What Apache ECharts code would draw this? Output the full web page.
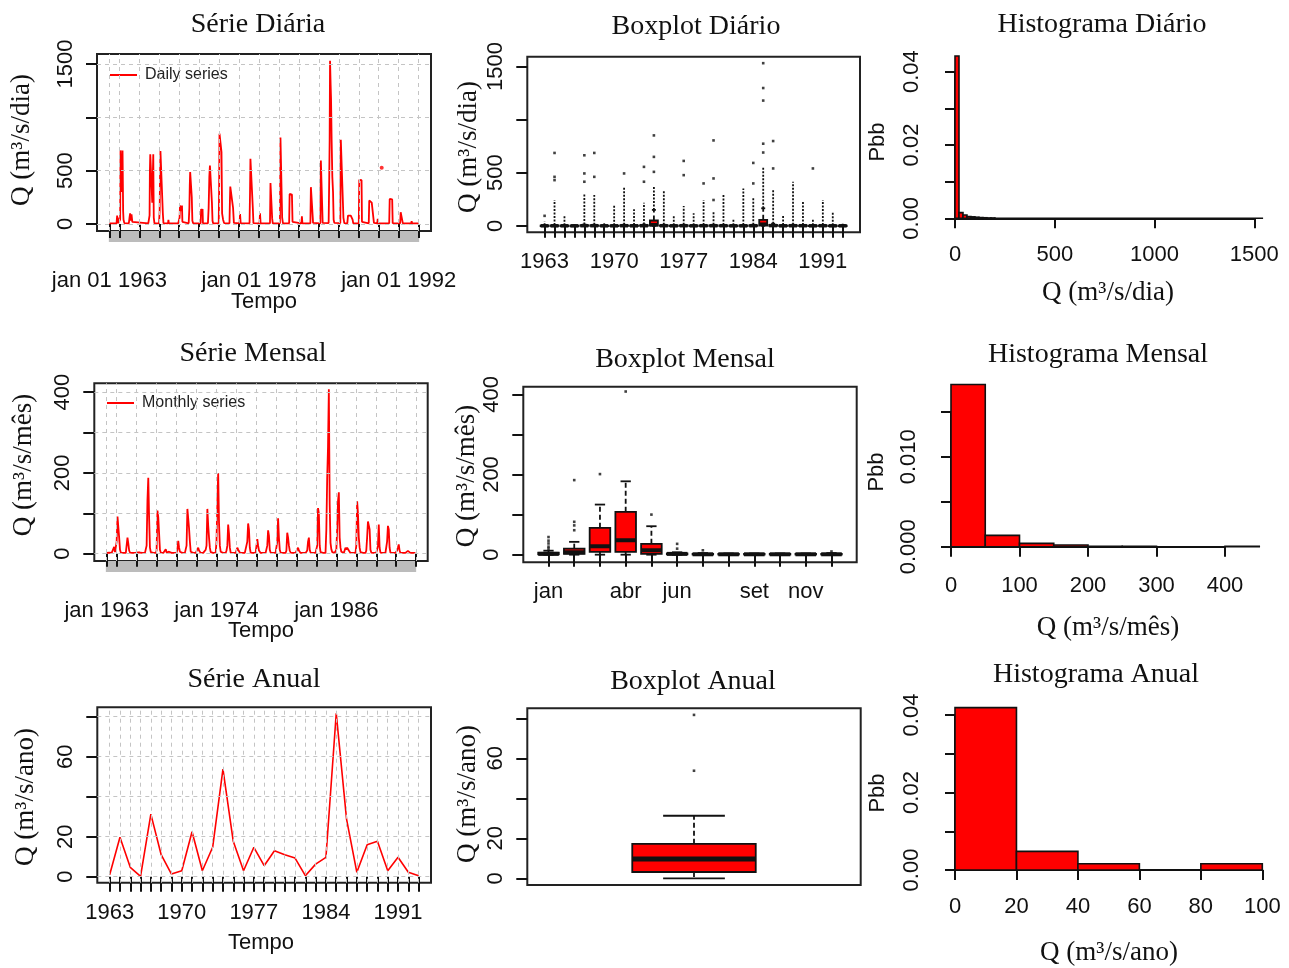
<!DOCTYPE html>
<html><head><meta charset="utf-8">
<script src="https://cdn.jsdelivr.net/npm/echarts@6/dist/echarts.min.js"></script>
<style>html,body{margin:0;padding:0;background:#fff}#c{width:1289px;height:968px}</style>
</head><body><div id="c"></div>
<script>
// ================= DATA =================
const annualYears = [1963,1964,1965,1966,1967,1968,1969,1970,1971,1972,1973,1974,1975,1976,1977,1978,1979,1980,1981,1982,1983,1984,1985,1986,1987,1988,1989,1990,1991,1992,1993];
const annualValues = [1.0,19.7,4.7,0.2,31.3,11,1.3,3,22.5,3,14.7,53.8,17.7,3,14.7,5.5,13,11,9.3,0.5,6.3,9.7,81.7,28.8,2.2,16,17.7,3,9.7,2.2,0.5];
const monthLabels = ['jan','fev','mar','abr','mai','jun','jul','ago','set','out','nov','dez'];
// monthly means (jan..dez) per year
const monthlyValues = [
 [2,2,3,3,2,2,2,2,2,17,4,2],
 [30,92,88,40,10,3,2,2,2,2,2,2],
 [5,40,25,8,3,2,2,2,2,2,2,2],
 [2,3,4,4,3,2,2,2,2,2,2,2],
 [20,132,188,88,15,4,2,2,2,2,2,2],
 [8,107,90,50,10,3,2,2,2,2,2,11],
 [3,5,6,5,3,2,2,2,2,2,2,2],
 [3,10,32,15,5,2,2,2,2,2,2,2],
 [20,111,108,63,30,5,2,2,2,2,2,2],
 [3,5,15,8,4,2,2,2,2,2,2,10],
 [20,111,70,40,15,4,2,2,2,2,2,2],
 [30,123,200,77,20,5,2,2,2,2,2,2],
 [8,20,72,50,15,3,2,2,2,2,2,2],
 [3,15,10,6,3,2,2,2,2,2,2,2],
 [5,30,75,60,15,3,2,2,2,2,2,2],
 [5,36,20,8,4,2,2,2,2,2,2,2],
 [5,20,58,45,10,3,2,2,2,2,2,2],
 [5,30,88,40,10,3,2,2,2,2,2,2],
 [8,52,40,20,8,3,2,2,2,2,2,2],
 [3,5,15,8,4,2,2,2,2,2,2,2],
 [3,8,30,40,10,3,2,2,2,2,2,2],
 [5,20,113,100,20,4,2,2,2,2,2,2],
 [60,186,265,407,123,27,11,4,2,2,2,3],
 [10,60,130,152,40,15,5,2,2,2,2,15],
 [10,15,12,8,4,2,2,2,2,2,2,2],
 [20,130,100,40,15,4,2,2,2,2,2,2],
 [8,40,80,70,60,10,3,2,2,2,2,2],
 [3,10,20,72,15,3,2,2,2,2,2,2],
 [5,30,69,60,15,3,2,2,2,2,2,2],
 [3,8,15,23,8,2,2,2,2,2,2,2],
 [2,3,7,4,3,2,2,2,2,2,2,2]
];
// daily discharge, [decimal year, value]
const dailySeries = [
 [1963.00,5],[1963.40,5],[1963.72,6],[1963.78,78],[1963.80,15],[1963.86,60],[1963.90,8],[1964.00,6],
 [1964.08,40],[1964.10,445],[1964.12,690],[1964.20,685],[1964.26,300],[1964.32,690],[1964.38,120],[1964.42,40],[1964.50,8],
 [1964.95,6],[1965.02,60],[1965.08,100],[1965.15,30],[1965.22,90],[1965.30,20],[1965.38,6],
 [1966.90,5],[1967.03,80],[1967.06,486],[1967.10,653],[1967.25,640],[1967.30,200],[1967.40,653],[1967.45,60],[1967.52,6],
 [1967.98,6],[1968.04,120],[1968.08,440],[1968.12,684],[1968.30,680],[1968.36,100],[1968.42,8],[1968.88,6],[1968.92,38],[1968.96,6],
 [1969.90,5],[1970.04,60],[1970.08,173],[1970.20,120],[1970.28,173],[1970.32,20],[1970.40,5],
 [1970.95,6],[1971.02,150],[1971.06,360],[1971.10,486],[1971.20,470],[1971.26,250],[1971.32,30],[1971.40,6],
 [1972.15,6],[1972.20,141],[1972.28,90],[1972.34,141],[1972.38,6],
 [1972.88,6],[1972.95,150],[1973.02,440],[1973.08,549],[1973.20,545],[1973.28,200],[1973.34,30],[1973.40,6],
 [1973.96,8],[1974.00,300],[1974.04,847],[1974.20,840],[1974.24,675],[1974.30,100],[1974.40,40],[1974.50,8],
 [1975.04,6],[1975.08,200],[1975.12,351],[1975.30,345],[1975.40,150],[1975.48,10],
 [1976.05,6],[1976.10,94],[1976.16,8],
 [1977.05,6],[1977.10,300],[1977.14,612],[1977.32,605],[1977.38,150],[1977.44,8],
 [1978.05,6],[1978.10,100],[1978.16,6],
 [1979.10,6],[1979.15,383],[1979.28,378],[1979.32,50],[1979.38,6],
 [1980.10,6],[1980.15,810],[1980.28,800],[1980.32,60],[1980.40,6],
 [1981.02,6],[1981.07,282],[1981.30,275],[1981.36,20],[1981.42,6],
 [1982.25,6],[1982.30,72],[1982.35,6],
 [1983.15,6],[1983.20,345],[1983.36,340],[1983.42,10],
 [1984.15,6],[1984.20,596],[1984.33,590],[1984.38,10],
 [1984.98,8],[1985.04,440],[1985.08,784],[1985.12,1531],[1985.18,1302],[1985.22,1177],[1985.28,784],[1985.35,440],[1985.42,300],[1985.48,40],[1985.55,10],
 [1986.15,8],[1986.20,790],[1986.40,785],[1986.46,60],[1986.55,8],
 [1986.85,6],[1986.92,78],[1987.05,60],[1987.20,78],[1987.38,40],[1987.45,6],
 [1988.00,6],[1988.05,414],[1988.28,410],[1988.32,20],[1988.40,6],
 [1989.00,6],[1989.05,220],[1989.30,200],[1989.48,215],[1989.52,10],
 [1989.85,6],[1989.90,47],[1989.95,6],
 [1991.05,6],[1991.10,235],[1991.35,230],[1991.40,8],
 [1992.15,6],[1992.20,110],[1992.38,105],[1992.42,6],
 [1993.25,6],[1993.30,25],[1993.35,6],[1994.00,5]
];
const dailyIsolated = [[1990.30,527]];
// daily boxplot per year: [min, Q1, median, Q3, upper whisker]
const dailyBoxStats = [
 [0,0,0,2,5],[0,0,0,3,8],[0,0,0,2,5],[0,0,0,1,3],[0,0,1,5,12],[0,0,1,4,10],[0,0,0,2,5],[0,0,0,2,5],
 [0,0,1,4,10],[0,0,0,3,8],[0,0,1,5,12],[0,2,10,50,150],[0,0,1,4,10],[0,0,0,2,5],[0,0,1,4,10],[0,0,0,2,5],
 [0,0,1,3,8],[0,0,1,4,10],[0,0,1,3,8],[0,0,0,2,5],[0,0,0,3,8],[0,0,1,4,10],[0,3,15,56,165],[0,0,2,8,20],
 [0,0,0,3,8],[0,0,1,4,10],[0,0,1,3,8],[0,0,0,2,5],[0,0,1,3,8],[0,0,0,2,5],[0,0,0,2,5]
];
// top of the dense column of outliers for each year
const dailyOutlierRunTop = [40,243,103,10,305,290,25,196,368,156,218,380,337,103,187,118,243,134,290,72,352,274,560,340,94,415,228,56,243,128,20];
const dailyOutliers = [
 [94],[430,461,686],[],[],[415,493,664],[461,686],[],[],[493],[],[415,555],[508,649,851],[],[],[477,611],[],
 [399],[243,446,804],[],[],[],[399,592],[690,773,1179,1297,1531],[540,798],[],[],[],[540],[],[],[]
];
const monthlyBoxStats = [
 [0,1,2,5,10],[0,2,6,15,32],[0,7,21,67,125],[0,7,36,107,183],[0,2,11,27,71],[0,1,2,3,6],
 [0,0.5,1,2,4],[0,0.5,1,2,3],[0,0.5,1,2,3],[0,0.5,1,2,3],[0,0.5,1,2,3],[0,0.5,1,2,4]
];
const monthlyOutliers = [[15,20,28,35,44],[61,73,82,186],[201],[407],[100],[15,27],[11],[],[],[],[],[8]];
const annualBoxStats = [0,3.2,9.7,17.3,31.3];
const annualOutliers = [53.8,81.7];
const dailyHistBreaks = [0,20,40,60,80,100,120,140,160,180,200,1540];
const dailyHistDensity = [0.0443,0.00155,0.0009,0.0005,0.0004,0.0003,0.0002,0.00015,0.0001,0.0001,0.00001];
const monthlyHistBreaks = [0,50,100,150,200,250,300,350,400,450];
const monthlyHistDensity = [0.01803,0.00126,0.00037,0.00019,0.00005,0.00005,0,0,0.00005];
const annualHistBreaks = [0,20,40,60,80,100];
const annualHistDensity = [0.0419,0.0048,0.0016,0,0.0016];
// tick / label values
const seriesTickYears = [1963,1964,1966,1968,1970,1972,1974,1976,1978,1980,1982,1984,1986,1988,1990,1992,1994];
const dailyLabelYears = [1963,1978,1992];
const monthlyLabelYears = [1963,1974,1986];
const annualLabelYears = [1963,1970,1977,1984,1991];
const monthLabelIdx = [1,4,6,9,11];
const dailyYTicks = [0,500,1000,1500], dailyYLabels = [0,500,1500];
const monthlyYTicks = [0,100,200,300,400], monthlyYLabels = [0,200,400];
const annualYTicks = [0,20,40,60,80], annualYLabels = [0,20,60];

// ================= STYLE / BUILD =================
const RED = '#ff0000', INK = '#111';
const axisFont = {fontFamily:'Liberation Sans', fontSize:22, color:INK};
const tickStyle = {color:INK, width:2};
const gridLine = {color:'#c4c4c4', width:1, type:[4,4]};
const minorTicks = [];
for (let k = 0; k < 372; k++) minorTicks.push(1963 + k / 12);

function xSeriesAxis(grid, min, max, ticks, labels, fmt, margin, tickLen) {
  return {type:'value', gridIndex:grid, position:'bottom', min, max, z:3,
    axisLine:{show:false},
    axisTick:{show:true, inside:false, length:tickLen, customValues:ticks, lineStyle:tickStyle},
    axisLabel:{show:true, customValues:labels, formatter:fmt, margin, ...axisFont},
    splitLine:{show:false}};
}
function xMinorAxis(grid, min, max) {
  return {type:'value', gridIndex:grid, position:'bottom', min, max, z:2,
    axisLine:{show:false}, axisLabel:{show:false}, splitLine:{show:false},
    axisTick:{show:true, length:11, customValues:minorTicks, lineStyle:{color:'#bdbdbd', width:1.3}}};
}
function xBoxAxis(grid, min, max, ticks, labels, fmt) {
  return {type:'value', gridIndex:grid, position:'bottom', min, max,
    axisLine:{show:false},
    axisTick:{show:!!ticks, length:12, customValues:ticks || [], lineStyle:tickStyle},
    axisLabel:{show:!!labels, customValues:labels || [], formatter:fmt, margin:19, ...axisFont},
    splitLine:{show:false}};
}
function yBoxAxis(grid, min, max, ticks, labels) {
  return {type:'value', gridIndex:grid, position:'left', min, max,
    axisLine:{show:false},
    axisTick:{show:true, length:11, customValues:ticks, lineStyle:tickStyle},
    axisLabel:{show:true, customValues:labels, rotate:90, margin:20, formatter:v => String(v), ...axisFont},
    splitLine:{show:false}};
}
function xHistAxis(grid, max, interval, offset) {
  return {type:'value', gridIndex:grid, position:'bottom', min:0, max, interval, offset,
    axisLine:{show:true, lineStyle:{color:INK, width:2}},
    axisTick:{show:true, length:10, lineStyle:tickStyle},
    axisLabel:{show:true, margin:19, formatter:v => String(v), ...axisFont},
    splitLine:{show:false}};
}
function yHistAxis(grid, max, interval, offset, labels, digits) {
  return {type:'value', gridIndex:grid, position:'left', min:0, max, interval, offset,
    axisLine:{show:true, lineStyle:{color:INK, width:2}},
    axisTick:{show:true, length:10, lineStyle:tickStyle},
    axisLabel:{show:true, customValues:labels, rotate:90, margin:19, formatter:v => v.toFixed(digits), ...axisFont},
    splitLine:{show:false}};
}
// dotted reference grid (R's grid()) drawn through the axes' scales
function gridSeries(xi, yi, xs, ys) {
  return {type:'line', xAxisIndex:xi, yAxisIndex:yi, data:[], silent:true, z:1,
    markLine:{silent:true, symbol:['none','none'], animation:false, label:{show:false},
      lineStyle:gridLine, emphasis:{disabled:true},
      data:[...xs.map(v => ({xAxis:v})), ...ys.map(v => ({yAxis:v}))]}};
}

function boxRender(hw, cw, medW) {
  return function (params, api) {
    const x = api.value(0), mn = api.value(1), q1 = api.value(2), md = api.value(3), q3 = api.value(4), mx = api.value(5);
    const c = (a, b) => api.coord([a, b]);
    const ln = (a, b, dash, w) => {
      const st = {stroke:INK, lineWidth:w || 1.8};
      if (dash) st.lineDash = dash;
      return {type:'line', shape:{x1:a[0], y1:a[1], x2:b[0], y2:b[1]}, style:st};
    };
    const tl = c(x - hw, q3), br = c(x + hw, q1);
    return {type:'group', children:[
      ln(c(x, q3), c(x, mx), [5, 3]),
      ln(c(x, q1), c(x, mn), [5, 3]),
      ln(c(x - cw, mx), c(x + cw, mx)),
      ln(c(x - cw, mn), c(x + cw, mn)),
      {type:'rect', shape:{x:tl[0], y:tl[1], width:br[0] - tl[0], height:Math.max(br[1] - tl[1], 0.5)},
       style:{fill:RED, stroke:INK, lineWidth:1.8}},
      ln(c(x - hw, md), c(x + hw, md), null, medW)
    ]};
  };
}
function histRender(params, api) {
  const a = api.coord([api.value(0), api.value(2)]);
  const b = api.coord([api.value(1), 0]);
  return {type:'rect', shape:{x:a[0], y:a[1], width:b[0] - a[0], height:b[1] - a[1]},
    style:{fill:RED, stroke:INK, lineWidth:1.6}};
}
function runRender(params, api) {
  const a = api.coord([api.value(0), api.value(1)]);
  const b = api.coord([api.value(0), api.value(2)]);
  return {type:'line', shape:{x1:a[0], y1:a[1], x2:b[0], y2:b[1]},
    style:{stroke:INK, lineWidth:1.8, lineDash:[2, 1.5]}};
}
const histData = (br, d) => d.map((v, i) => [br[i], br[i + 1], v]);

const monthlyLine = [];
monthlyValues.forEach((row, i) => row.forEach((v, m) => monthlyLine.push([annualYears[i] + m / 12, v])));
const annualLine = annualYears.map((y, i) => [y, annualValues[i]]);
const dailyBoxData = dailyBoxStats.map((s, i) => [annualYears[i], ...s]);
const dailyRunData = [];
dailyBoxStats.forEach((s, i) => { if (dailyOutlierRunTop[i] > s[4]) dailyRunData.push([annualYears[i], s[4], dailyOutlierRunTop[i]]); });
const dailyOutData = [];
dailyOutliers.forEach((arr, i) => arr.forEach(v => dailyOutData.push([annualYears[i], v])));
const monthlyBoxData = monthlyBoxStats.map((s, i) => [i + 1, ...s]);
const monthlyOutData = [];
monthlyOutliers.forEach((arr, i) => arr.forEach(v => monthlyOutData.push([i + 1, v])));
const annualBoxData = [[1, ...annualBoxStats]];
const annualOutData = annualOutliers.map(v => [1, v]);

const boxGrid = {show:true, borderColor:'#222', borderWidth:2, containLabel:false, outerBoundsMode:'none'};
const plainGrid = {show:false, containLabel:false, outerBoundsMode:'none'};

const serif28 = '28px "Liberation Serif"', serif27 = '27px "Liberation Serif"', sans21 = '22px "Liberation Sans"';
function txt(s, x, y, font, rot) {
  return {type:'text', x, y, rotation:rot ? Math.PI / 2 : 0, z:100,
    style:{text:s, font, fill:INK, textAlign:'center', textVerticalAlign:'middle', align:'center', verticalAlign:'middle'}};
}
const outlierStyle = {type:'scatter', symbol:'rect', symbolSize:2.6, itemStyle:{color:INK}, silent:true};
const legendText = {fontFamily:'Liberation Sans', fontSize:16, color:'#222', padding:[0,0,0,3]};

const option = {
  animation:false,
  backgroundColor:'#fff',
  grid:[
    {...boxGrid, left:97, top:54, width:334, height:177},
    {...boxGrid, left:527.3, top:56.7, width:332.7, height:175.6},
    {...plainGrid, left:955, top:71.7, width:299.3, height:146.6},
    {...boxGrid, left:94.3, top:383.3, width:333.4, height:177.7},
    {...boxGrid, left:523.3, top:386.7, width:333.4, height:175.6},
    {...plainGrid, left:951, top:411.7, width:274, height:135},
    {...boxGrid, left:97.3, top:707.3, width:333.7, height:175.4},
    {...boxGrid, left:527.3, top:708.3, width:333.4, height:176.7},
    {...plainGrid, left:955, top:715, width:307.3, height:155}
  ],
  xAxis:[
    xSeriesAxis(0, 1961.76, 1995.24, seriesTickYears, dailyLabelYears, v => 'jan 01 ' + Math.round(v), 39, 14),
    xMinorAxis(0, 1961.76, 1995.24),
    xBoxAxis(1, 1961.26, 1994.74, annualYears, annualLabelYears, v => String(v)),
    xHistAxis(2, 1500, 500, 6.7),
    xSeriesAxis(3, 1961.76, 1995.15, seriesTickYears, monthlyLabelYears, v => 'jan ' + Math.round(v), 39, 13),
    xMinorAxis(3, 1961.76, 1995.15),
    xBoxAxis(4, 0.02, 12.98, [1,2,3,4,5,6,7,8,9,10,11,12], monthLabelIdx, v => monthLabels[Math.round(v) - 1]),
    xHistAxis(5, 400, 100, 9),
    xSeriesAxis(6, 1961.8, 1994.2, annualYears, annualLabelYears, v => String(v), 19, 15),
    xBoxAxis(7, 0.46, 1.54, null, null, v => ''),
    xHistAxis(8, 100, 20, 6.7)
  ],
  yAxis:[
    yBoxAxis(0, -66, 1594, dailyYTicks, dailyYLabels),
    yBoxAxis(1, -61, 1592, dailyYTicks, dailyYLabels),
    yHistAxis(2, 0.04, 0.01, 13.3, [0,0.02,0.04], 2),
    yBoxAxis(3, -18, 422, monthlyYTicks, monthlyYLabels),
    yBoxAxis(4, -19, 419, monthlyYTicks, monthlyYLabels),
    yHistAxis(5, 0.015, 0.005, 12, [0,0.01], 3),
    yBoxAxis(6, -3, 84.7, annualYTicks, annualYLabels),
    yBoxAxis(7, -3.3, 85, annualYTicks, annualYLabels),
    yHistAxis(8, 0.04, 0.01, 13.3, [0,0.02,0.04], 2)
  ],
  legend:[
    {data:['Daily series'], left:105, top:62, icon:'rect', itemWidth:27, itemHeight:2, selectedMode:false, textStyle:legendText},
    {data:['Monthly series'], left:102, top:390, icon:'rect', itemWidth:27, itemHeight:2, selectedMode:false, textStyle:legendText}
  ],
  series:[
    gridSeries(0, 0, seriesTickYears, dailyYTicks),
    gridSeries(4, 3, seriesTickYears, monthlyYTicks),
    gridSeries(8, 6, annualYears, annualYTicks),
    {name:'Daily series', type:'line', xAxisIndex:0, yAxisIndex:0, data:dailySeries, showSymbol:false,
     lineStyle:{color:RED, width:1.8}, itemStyle:{color:RED}, z:3},
    {type:'scatter', xAxisIndex:0, yAxisIndex:0, data:dailyIsolated, symbol:'circle', symbolSize:4, itemStyle:{color:RED}, z:3},
    {type:'custom', xAxisIndex:2, yAxisIndex:1, data:dailyRunData, renderItem:runRender, encode:{x:0, y:[1,2]}, clip:false, z:2},
    {type:'custom', xAxisIndex:2, yAxisIndex:1, data:dailyBoxData, renderItem:boxRender(0.4, 0.2, 3.5), encode:{x:0, y:[1,2,3,4,5]}, clip:false, z:3},
    {...outlierStyle, xAxisIndex:2, yAxisIndex:1, data:dailyOutData},
    {type:'custom', xAxisIndex:3, yAxisIndex:2, data:histData(dailyHistBreaks, dailyHistDensity), renderItem:histRender, encode:{x:[0,1], y:2}, clip:false},
    {name:'Monthly series', type:'line', xAxisIndex:4, yAxisIndex:3, data:monthlyLine, showSymbol:false,
     lineStyle:{color:RED, width:1.8}, itemStyle:{color:RED}, z:3},
    {type:'custom', xAxisIndex:6, yAxisIndex:4, data:monthlyBoxData, renderItem:boxRender(0.4, 0.2, 4), encode:{x:0, y:[1,2,3,4,5]}, clip:false, z:3},
    {...outlierStyle, xAxisIndex:6, yAxisIndex:4, data:monthlyOutData},
    {type:'custom', xAxisIndex:7, yAxisIndex:5, data:histData(monthlyHistBreaks, monthlyHistDensity), renderItem:histRender, encode:{x:[0,1], y:2}, clip:false},
    {type:'line', xAxisIndex:8, yAxisIndex:6, data:annualLine, showSymbol:false,
     lineStyle:{color:RED, width:1.6}, itemStyle:{color:RED}, z:3},
    {type:'custom', xAxisIndex:9, yAxisIndex:7, data:annualBoxData, renderItem:boxRender(0.2, 0.1, 5), encode:{x:0, y:[1,2,3,4,5]}, clip:false, z:3},
    {...outlierStyle, xAxisIndex:9, yAxisIndex:7, data:annualOutData},
    {type:'custom', xAxisIndex:10, yAxisIndex:8, data:histData(annualHistBreaks, annualHistDensity), renderItem:histRender, encode:{x:[0,1], y:2}, clip:false}
  ],
  graphic:[
    txt('Série Diária', 258, 25, serif28),
    txt('Boxplot Diário', 696, 27, serif28),
    txt('Histograma Diário', 1102, 25, serif28),
    txt('Série Mensal', 253, 354, serif28),
    txt('Boxplot Mensal', 685, 360, serif28),
    txt('Histograma Mensal', 1098, 355, serif28),
    txt('Série Anual', 254, 680, serif28),
    txt('Boxplot Anual', 693, 682, serif28),
    txt('Histograma Anual', 1096, 675, serif28),
    txt('Q (m³/s/dia)', 22, 140, serif27, true),
    txt('Q (m³/s/dia)', 469, 147, serif27, true),
    txt('Q (m³/s/mês)', 24, 465, serif27, true),
    txt('Q (m³/s/mês)', 467, 476, serif27, true),
    txt('Q (m³/s/ano)', 26, 797, serif27, true),
    txt('Q (m³/s/ano)', 468, 794, serif27, true),
    txt('Pbb', 878, 142, sans21, true),
    txt('Pbb', 877, 472, sans21, true),
    txt('Pbb', 878, 793, sans21, true),
    txt('Tempo', 264, 302, sans21),
    txt('Tempo', 261, 631, sans21),
    txt('Tempo', 261, 943, sans21),
    txt('Q (m³/s/dia)', 1108, 293, serif27),
    txt('Q (m³/s/mês)', 1108, 628, serif27),
    txt('Q (m³/s/ano)', 1109, 953, serif27)
  ]
};
const chart = echarts.init(document.getElementById('c'), null, {renderer:'canvas'});
chart.setOption(option);
</script>
</body></html>
